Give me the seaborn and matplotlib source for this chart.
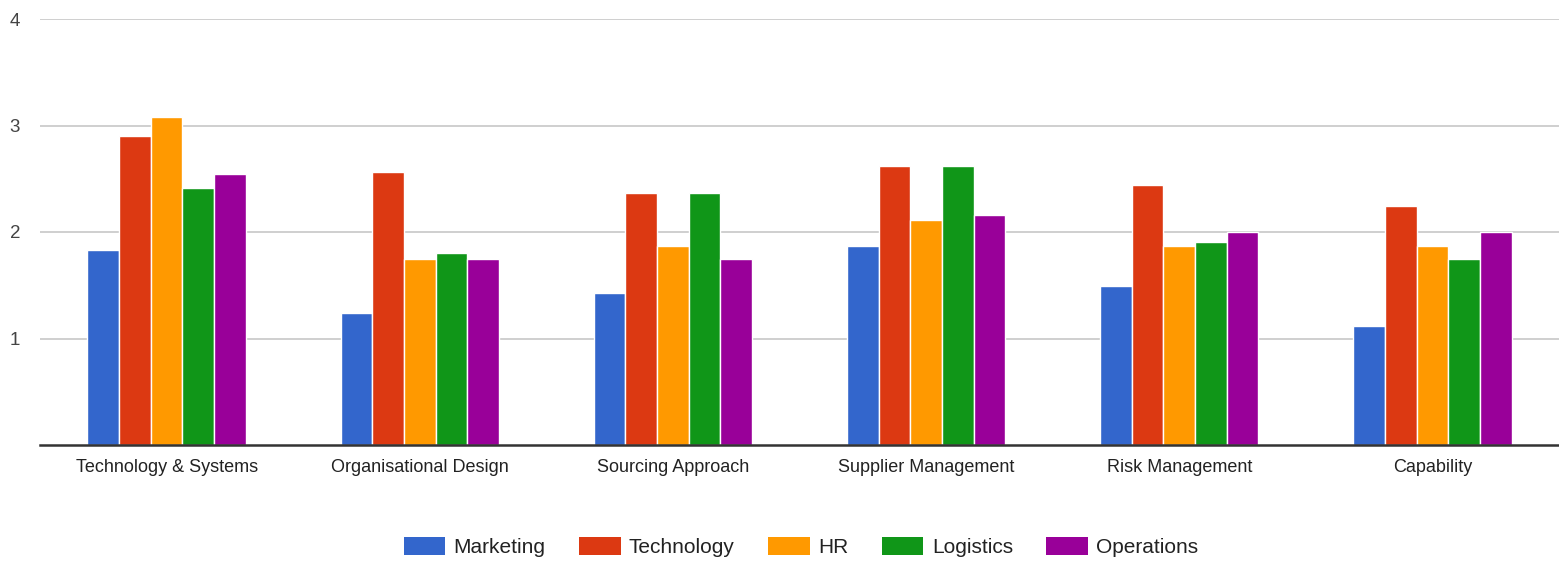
import numpy as np
import pandas as pd
import matplotlib.pyplot as plt
import seaborn as sns
from matplotlib.patches import Patch

CATEGORIES = ["Technology & Systems", "Organisational Design", "Sourcing Approach",
              "Supplier Management", "Risk Management", "Capability"]
SERIES = ["Marketing", "Technology", "HR", "Logistics", "Operations"]

marketing = [1.83, 1.24, 1.43, 1.87, 1.49, 1.12]
technology = [2.90, 2.56, 2.37, 2.62, 2.44, 2.24]
hr = [3.08, 1.75, 1.87, 2.11, 1.87, 1.87]
logistics = [2.41, 1.80, 2.37, 2.62, 1.91, 1.75]
operations = [2.54, 1.75, 1.75, 2.16, 2.00, 2.00]

COLORS = ["#3366cc", "#dc3912", "#ff9900", "#109618", "#990099"]

rows = []
for name, vals in zip(SERIES, [marketing, technology, hr, logistics, operations]):
    for cat, v in zip(CATEGORIES, vals):
        rows.append({"category": cat, "series": name, "value": v})
df = pd.DataFrame(rows)

sns.set_theme(style="white")
plt.rcParams["font.family"] = ["Liberation Sans", "DejaVu Sans"]

fig = plt.figure(figsize=(15.59, 5.73), dpi=100)
ax = fig.add_axes([40 / 1559, 1 - 445 / 573, 1 - 40 / 1559, (445 - 19) / 573])

sns.barplot(data=df, x="category", y="value", hue="series", order=CATEGORIES,
            hue_order=SERIES, palette=COLORS, saturation=1, width=0.625, gap=0,
            edgecolor="white", linewidth=1.0, ax=ax, legend=False)

ax.set_ylim(0, 4)
ax.set_xlim(-0.5, 5.5)
ax.set_yticks([1, 2, 3, 4])
ax.set_yticklabels(["1", "2", "3", "4"])
ax.set_xlabel("")
ax.set_ylabel("")
ax.set_axisbelow(True)
ax.yaxis.grid(True, color="#cccccc", lw=1.3)
ax.xaxis.grid(False)
for side in ["top", "right", "left"]:
    ax.spines[side].set_visible(False)
ax.spines["bottom"].set_color("#333333")
ax.spines["bottom"].set_linewidth(1.8)
ax.tick_params(axis="y", length=0, pad=18, labelsize=13.5, labelcolor="#444444")
ax.tick_params(axis="x", length=0, pad=10, labelsize=13, labelcolor="#222222")
for lbl in ax.get_yticklabels():
    lbl.set_horizontalalignment("center")

handles = [Patch(facecolor=c, edgecolor="none") for c in COLORS]
fig.legend(handles, SERIES, loc="center", bbox_to_anchor=(801 / 1559, 1 - 547 / 573),
           ncol=5, frameon=False, fontsize=15, handlelength=2.0, handleheight=1.0,
           handletextpad=0.4, columnspacing=1.6, labelcolor="#222222")

fig.savefig("out.png", dpi=100)
